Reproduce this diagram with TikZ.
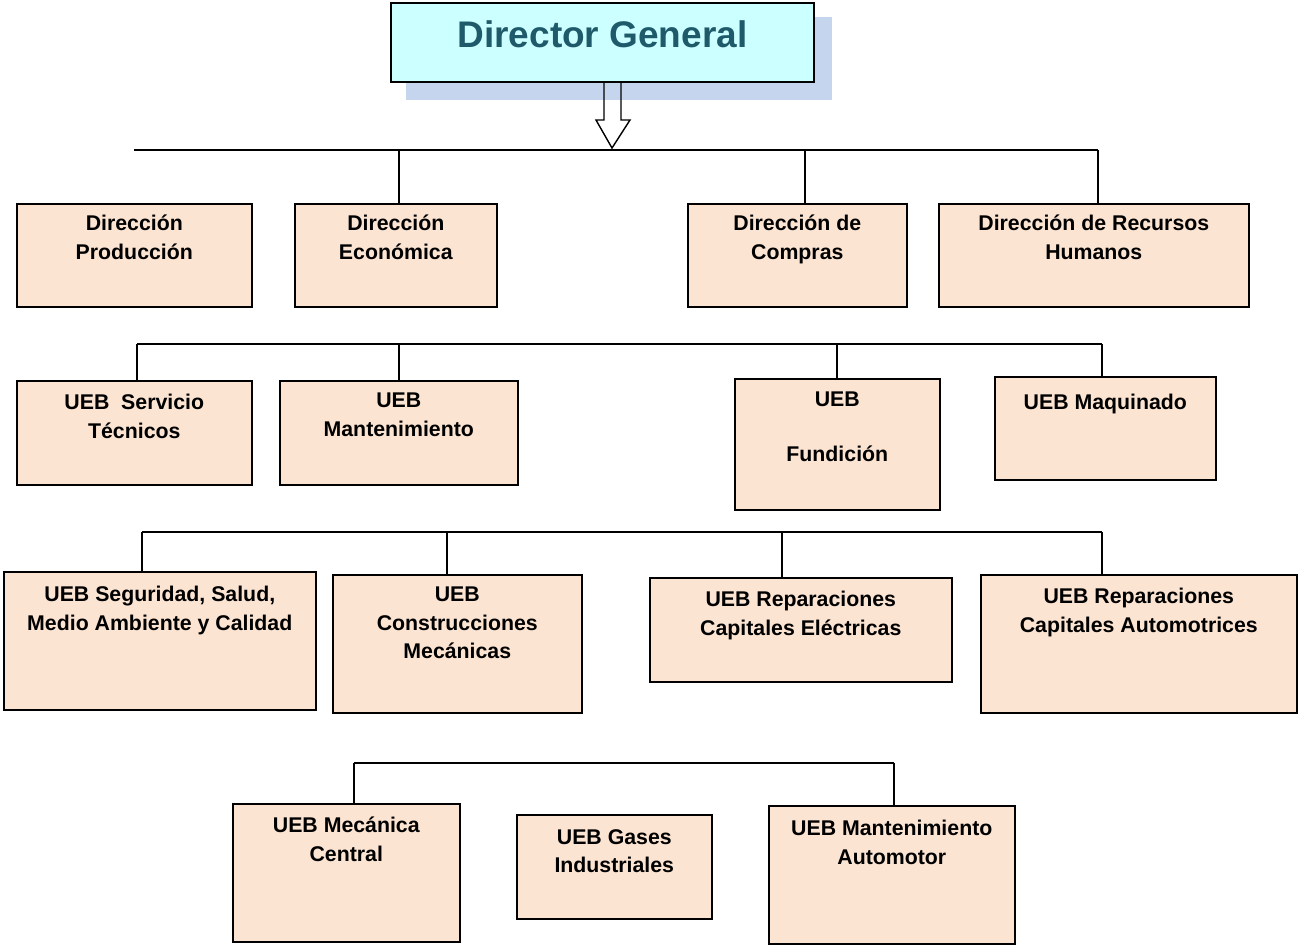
\documentclass[tikz,border=0pt]{standalone}
\usepackage{fontspec}
\setmainfont{Liberation Sans}
\usetikzlibrary{positioning}
\definecolor{peach}{HTML}{FCE4D2}
\definecolor{dgfill}{HTML}{CCFFFF}
\definecolor{dgshade}{HTML}{C6D5EE}
\definecolor{dgtext}{HTML}{1F5A6A}
\begin{document}
\begin{tikzpicture}[x=1pt, y=-1pt,
    unit/.style={draw=black, fill=peach, line width=1.6pt, anchor=north west, inner sep=0pt},
    unittxt/.style={font=\bfseries\fontsize{21.3}{28.5}\selectfont, align=center, inner sep=0pt,
      execute at begin node=\strut},
    bus/.style={line width=1.4pt}]
  \useasboundingbox (0,0) rectangle (1298,945);

  \fill[dgshade] (406,17) rectangle (832,100);
  \node[draw=black, fill=dgfill, line width=1.6pt, minimum width=423pt, minimum height=79pt,
    text depth=16pt, text=dgtext, font=\bfseries\fontsize{37}{40}\selectfont]
    (dg) at (602.5,42.5) {Director General};

  % first level
  \node[unit, minimum width=235pt, minimum height=103pt] (dprod) at (16,203) {};
  \node[unittxt, below=12pt of dprod.north] (dprodt) {Dirección\\Producción};
  \node[unit, minimum width=202pt, minimum height=103pt] (decon) at (294,203) {};
  \node[unittxt, below=12pt of decon.north] (decont) {Dirección\\Económica};
  \node[unit, minimum width=219pt, minimum height=103pt] (dcomp) at (687,203) {};
  \node[unittxt, below=12pt of dcomp.north] (dcompt) {Dirección de\\Compras};
  \node[unit, minimum width=310pt, minimum height=103pt] (drrhh) at (938,203) {};
  \node[unittxt, below=12pt of drrhh.north] (drrhht) {Dirección de Recursos\\Humanos};

  % second level
  \node[unit, minimum width=235pt, minimum height=104pt] (userv) at (16,380) {};
  \node[unittxt, below=14pt of userv.north] (uservt) {UEB~ Servicio\\Técnicos};
  \node[unit, minimum width=238pt, minimum height=104pt] (umant) at (279,380) {};
  \node[unittxt, below=13pt of umant.north] (umantt) {UEB\\Mantenimiento};
  \node[unit, minimum width=205pt, minimum height=131pt] (ufund) at (734,378) {};
  \node[unittxt, below=14pt of ufund.north] (ufundt) {UEB\\[26.5pt]Fundición};
  \node[unit, minimum width=221pt, minimum height=103pt] (umaq) at (994,376) {};
  \node[unittxt, below=13pt of umaq.north] (umaqt) {UEB Maquinado};

  % third level
  \node[unit, minimum width=312pt, minimum height=138pt] (useg) at (3,571) {};
  \node[unittxt, below=15pt of useg.north] (usegt) {UEB Seguridad, Salud,\\Medio Ambiente y Calidad};
  \node[unit, minimum width=249pt, minimum height=138pt] (ucons) at (332,574) {};
  \node[unittxt, below=13pt of ucons.north] (uconst) {UEB\\Construcciones\\Mecánicas};
  \node[unit, minimum width=302pt, minimum height=104pt] (urepe) at (649,577) {};
  \node[unittxt, below=14pt of urepe.north] (urepet) {UEB Reparaciones\\Capitales Eléctricas};
  \node[unit, minimum width=316pt, minimum height=138pt] (urepa) at (980,574) {};
  \node[unittxt, below=14pt of urepa.north] (urepat) {UEB Reparaciones\\Capitales Automotrices};

  % fourth level
  \node[unit, minimum width=227pt, minimum height=138pt] (umec) at (232,803) {};
  \node[unittxt, below=14pt of umec.north] (umect) {UEB Mecánica\\Central};
  \node[unit, minimum width=195pt, minimum height=104pt] (ugas) at (516,814) {};
  \node[unittxt, below=15pt of ugas.north] (ugast) {UEB Gases\\Industriales};
  \node[unit, minimum width=246pt, minimum height=138pt] (umaut) at (768,805) {};
  \node[unittxt, below=15pt of umaut.north] (umautt) {UEB Mantenimiento\\Automotor};

  % buses
  \coordinate (b1w) at (134,150);  \coordinate (b1e) at (1098,150);
  \coordinate (tip) at (612,148);
  \coordinate (j1a) at (399,150);  \coordinate (j1b) at (805,150);
  \draw[bus] (b1w) -- (b1e);
  \draw[bus] (j1a) -- (j1a |- decon.north);
  \draw[bus] (j1b) -- (j1b |- dcomp.north);
  \draw[bus] (b1e) -- (b1e |- drrhh.north);
  \draw[line width=1.4pt] (604,82) |- (596,120) -- (tip) -- (630,120) -| (621,82);

  \coordinate (b2w) at (137,344);  \coordinate (b2e) at (1102,344);
  \coordinate (j2a) at (399,344);  \coordinate (j2b) at (837,344);
  \draw[bus] (b2w) -- (b2e);
  \draw[bus] (b2w) -- (b2w |- userv.north);
  \draw[bus] (j2a) -- (j2a |- umant.north);
  \draw[bus] (j2b) -- (j2b |- ufund.north);
  \draw[bus] (b2e) -- (b2e |- umaq.north);

  \coordinate (b3w) at (142,532);  \coordinate (b3e) at (1102,532);
  \coordinate (j3a) at (447,532);  \coordinate (j3b) at (782,532);
  \draw[bus] (b3w) -- (b3e);
  \draw[bus] (b3w) -- (b3w |- useg.north);
  \draw[bus] (j3a) -- (j3a |- ucons.north);
  \draw[bus] (j3b) -- (j3b |- urepe.north);
  \draw[bus] (b3e) -- (b3e |- urepa.north);

  \coordinate (b4w) at (354,763);  \coordinate (b4e) at (894,763);
  \draw[bus] (b4w) -- (b4e);
  \draw[bus] (b4w) -- (b4w |- umec.north);
  \draw[bus] (b4e) -- (b4e |- umaut.north);
\end{tikzpicture}
\end{document}
